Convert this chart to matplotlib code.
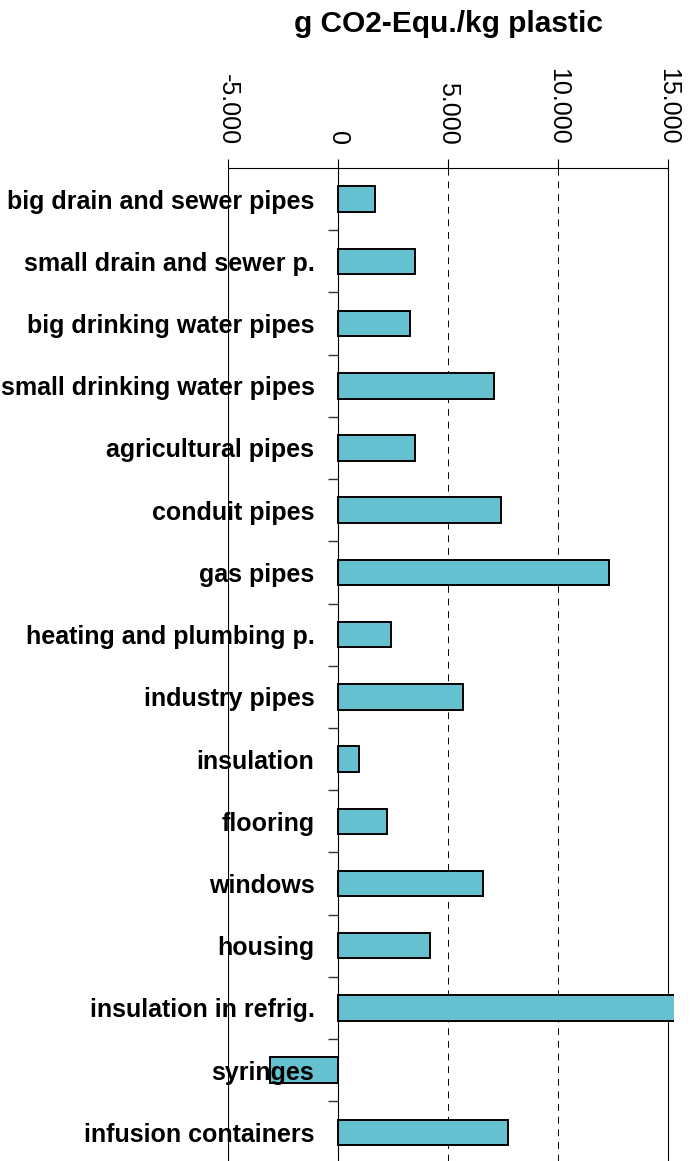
import numpy as np
import matplotlib
matplotlib.use("Agg")
import matplotlib.pyplot as plt
import matplotlib.transforms as mtransforms

plt.rcParams["font.family"] = ["Liberation Sans", "DejaVu Sans"]

categories = [
    "big drain and sewer pipes",
    "small drain and sewer p.",
    "big drinking water pipes",
    "small drinking water pipes",
    "agricultural pipes",
    "conduit pipes",
    "gas pipes",
    "heating and plumbing p.",
    "industry pipes",
    "insulation",
    "flooring",
    "windows",
    "housing",
    "insulation in refrig.",
    "syringes",
    "infusion containers",
]
values = [1700, 3480, 3250, 7110, 3480, 7430, 12330, 2420, 5660,
          970, 2210, 6600, 4190, 15500, -3110, 7730]

x_ticks = [-5000, 0, 5000, 10000, 15000]
x_ticklabels = ["-5.000", "0", "5.000", "10.000", "15.000"]
title = "g CO2-Equ./kg plastic"

BAR_COLOR = "#65C1CF"

fig = plt.figure(figsize=(6.95, 11.61), dpi=100)
ax = fig.add_axes([228 / 695, 0.0, (674 - 228) / 695, 1 - 168 / 1161])
ax.set_axisbelow(False)  # Beschriftung liegt über den Balken (syringes)

y = np.arange(len(categories))
ax.barh(y, values, height=0.41, color=BAR_COLOR, edgecolor="black",
        linewidth=1.4, zorder=2)

ax.set_xlim(-5000, 15270)
ax.set_ylim(15.46, -0.5)

# Achsenlinien
for s in ["top", "right", "bottom"]:
    ax.spines[s].set_visible(False)
ax.spines["left"].set_position(("data", 0))
ax.spines["left"].set_linewidth(0.8)
ax.hlines(-0.5, -5000, 15000, color="black", linewidth=0.8, clip_on=False, zorder=3)
ax.axvline(-5000, color="black", linewidth=0.8, zorder=1)
ax.axvline(15000, color="black", linewidth=0.8, zorder=1)
for xv in [5000, 10000]:
    ax.axvline(xv, color="black", linewidth=0.7, linestyle=(0, (7, 6)), zorder=1)

# x-Achse oben, gedrehte Beschriftung
ax.xaxis.tick_top()
ax.set_xticks(x_ticks)
ax.set_xticklabels(x_ticklabels, rotation=-90, fontsize=18)
ax.tick_params(axis="x", direction="out", length=6.5, width=0.8, pad=10)

# y-Achse: Kategorien, Striche zwischen den Kategorien
ax.set_yticks(y)
ax.set_yticklabels(categories, fontsize=18, fontweight="bold")
ax.set_yticks(np.arange(0.5, len(categories) - 1, 1.0), minor=True)
ax.tick_params(axis="y", which="major", length=0, pad=17)
ax.tick_params(axis="y", which="minor", length=7, width=1.0, color="#333333")

trans = mtransforms.blended_transform_factory(ax.transData, fig.transFigure)
ax.text(5000, 1 - 32 / 1161, title, transform=trans, ha="center",
        va="baseline", fontsize=21.5, fontweight="bold")

fig.savefig("out.png", dpi=100)
